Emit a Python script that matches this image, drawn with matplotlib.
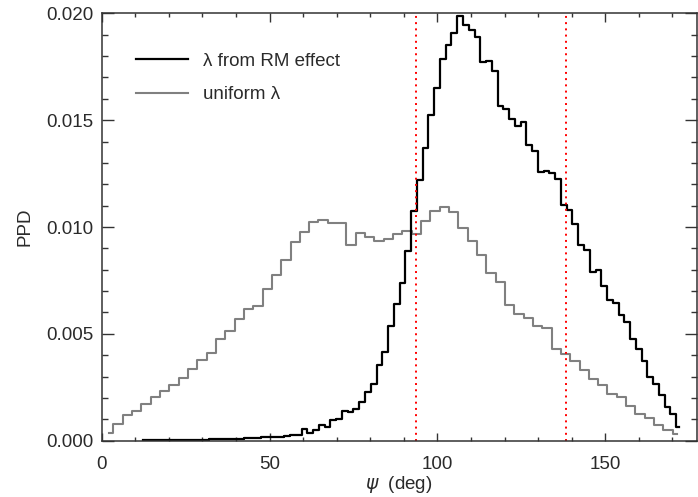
import numpy as np
import matplotlib
matplotlib.use("Agg")
import matplotlib.pyplot as plt
from matplotlib.ticker import MultipleLocator

# psi bin centres (deg) and PPD values
psi_rm = np.linspace(12.35, 172.0, 94)
ppd_rm = [0.00002, 0.00002, 0.00003, 0.00003, 0.00003, 0.00003, 0.00004, 0.00004,
          0.00004, 0.00005, 0.00005, 0.00005, 0.00006, 0.00006, 0.00009, 0.00009,
          0.00008, 0.00010, 0.00012, 0.00012, 0.00013, 0.00015, 0.00016, 0.00016,
          0.00019, 0.00022, 0.00025, 0.00027, 0.00055, 0.00037, 0.00050, 0.00073,
          0.00064, 0.00097, 0.00103, 0.00140, 0.00136, 0.00147, 0.00180, 0.00228,
          0.00265, 0.00352, 0.00413, 0.00537, 0.00642, 0.00740, 0.00889, 0.01075,
          0.01220, 0.01371, 0.01523, 0.01652, 0.01788, 0.01850, 0.01909, 0.01989,
          0.01945, 0.01922, 0.01891, 0.01771, 0.01777, 0.01730, 0.01566, 0.01554,
          0.01504, 0.01473, 0.01493, 0.01384, 0.01357, 0.01259, 0.01262, 0.01251,
          0.01225, 0.01104, 0.01080, 0.01014, 0.00916, 0.00892, 0.00788, 0.00799,
          0.00724, 0.00658, 0.00643, 0.00588, 0.00557, 0.00476, 0.00429, 0.00373,
          0.00299, 0.00265, 0.00212, 0.00160, 0.00124, 0.00063]

psi_uni = np.linspace(2.1, 171.5, 62)
ppd_uni = [0.00035, 0.00078, 0.00119, 0.00140, 0.00172, 0.00206, 0.00234, 0.00261,
           0.00293, 0.00334, 0.00378, 0.00409, 0.00474, 0.00515, 0.00568, 0.00618,
           0.00630, 0.00711, 0.00775, 0.00846, 0.00930, 0.00978, 0.01025, 0.01033,
           0.01019, 0.01017, 0.00914, 0.00973, 0.00955, 0.00933, 0.00945, 0.00969,
           0.00981, 0.00966, 0.01030, 0.01076, 0.01092, 0.01070, 0.00995, 0.00935,
           0.00869, 0.00783, 0.00741, 0.00634, 0.00591, 0.00573, 0.00538, 0.00526,
           0.00429, 0.00406, 0.00373, 0.00331, 0.00289, 0.00261, 0.00219, 0.00206,
           0.00162, 0.00125, 0.00105, 0.00073, 0.00050, 0.00031]

psi_marks = [93.7, 138.4]

plt.rcParams['font.family'] = ['Liberation Sans', 'DejaVu Sans']
plt.rcParams['mathtext.fontset'] = 'dejavusans'
txt = '#2a2a2a'
fs = 13.5

fig = plt.figure(figsize=(6.98, 4.97), dpi=100)
ax = fig.add_axes([0.1457, 0.1133, 0.8522, 0.8599])

ax.step(psi_uni, ppd_uni, where='mid', color='#808080', lw=1.5, label='uniform λ')
ax.step(psi_rm, ppd_rm, where='mid', color='black', lw=1.6, label='λ from RM effect')
for p in psi_marks:
    ax.axvline(p, color='red', lw=1.4, ls=(0, (1, 2.2)))

ax.set_xlim(0, 177.2)
ax.set_ylim(0, 0.020)
ax.xaxis.set_major_locator(MultipleLocator(50))
ax.xaxis.set_minor_locator(MultipleLocator(10))
ax.yaxis.set_major_locator(MultipleLocator(0.005))
ax.yaxis.set_minor_locator(MultipleLocator(0.001))
ax.yaxis.set_major_formatter(plt.FuncFormatter(lambda v, p: '%.3f' % v))

ax.tick_params(which='both', direction='in', top=True, right=True,
               color='#333333', width=1.0, labelsize=fs, labelcolor=txt)
ax.tick_params(axis='x', which='major', length=8.5 * 0.72, pad=11)
ax.tick_params(axis='x', which='minor', length=4.3 * 0.72)
ax.tick_params(axis='y', which='major', length=12 * 0.72, pad=6)
ax.tick_params(axis='y', which='minor', length=6 * 0.72)
for s in ax.spines.values():
    s.set_color('#333333')
    s.set_linewidth(1.1)

ax.set_xlabel(r'$\psi$  (deg)', fontsize=fs, color=txt, labelpad=1)
ax.set_ylabel('PPD', fontsize=fs, color=txt, labelpad=9)

h, l = ax.get_legend_handles_labels()
ax.legend(h[::-1], l[::-1], loc='upper left', bbox_to_anchor=(0.042, 0.93),
          frameon=False, fontsize=fs, handlelength=2.75, handletextpad=0.8,
          labelspacing=0.88, borderpad=0, labelcolor=txt)

fig.savefig('out.png', dpi=100)
